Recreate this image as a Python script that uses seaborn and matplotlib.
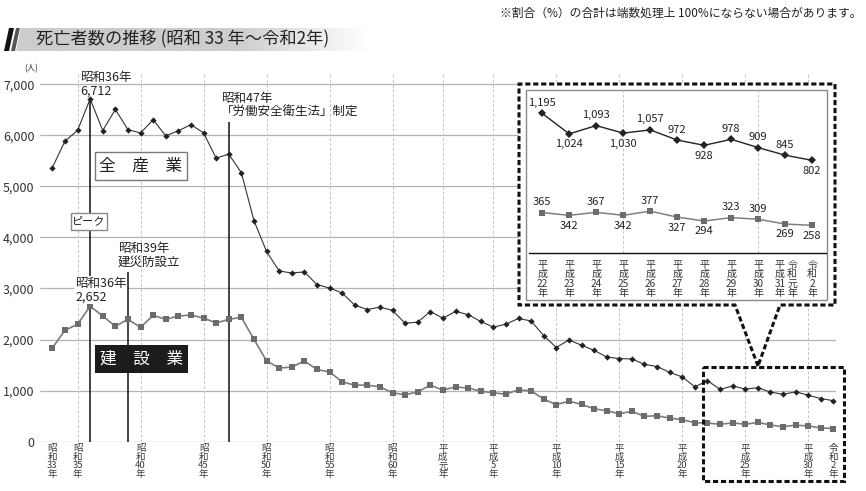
import numpy as np
import pandas as pd
import matplotlib
matplotlib.use("Agg")
import matplotlib.pyplot as plt
from matplotlib.patches import Rectangle, Polygon
import seaborn as sns

# データ(昭和33年〜令和2年)
years = np.arange(1958, 2021)
all_industry = [5368, 5885, 6095, 6712, 6093, 6506, 6110, 6046, 6303, 5990,
                6088, 6208, 6048, 5552, 5631, 5269, 4330, 3725, 3345, 3302,
                3326, 3077, 3009, 2912, 2674, 2588, 2635, 2572, 2318, 2342,
                2549, 2419, 2550, 2489, 2354, 2245, 2301, 2414, 2363, 2078,
                1844, 1992, 1889, 1790, 1658, 1628, 1620, 1514, 1472, 1357,
                1268, 1075, 1195, 1024, 1093, 1030, 1057, 972, 928, 978,
                909, 845, 802]
construction = [1836, 2182, 2299, 2652, 2461, 2260, 2396, 2240, 2474, 2396,
                2461, 2480, 2422, 2324, 2396, 2435, 2006, 1582, 1445, 1459,
                1582, 1414, 1367, 1172, 1107, 1107, 1074, 957, 918, 977,
                1107, 1010, 1074, 1049, 990, 957, 931, 1016, 996, 834,
                725, 794, 731, 644, 607, 548, 594, 497, 508, 461,
                430, 371, 365, 342, 367, 342, 377, 327, 294, 323,
                309, 269, 258]

tick_years = [1958, 1960, 1965, 1970, 1975, 1980, 1985, 1989, 1993, 1998,
              2003, 2008, 2013, 2018, 2020]
tick_labels = ["昭\n和\n33\n年", "昭\n和\n35\n年", "昭\n和\n40\n年", "昭\n和\n45\n年",
               "昭\n和\n50\n年", "昭\n和\n55\n年", "昭\n和\n60\n年", "平\n成\n元\n年",
               "平\n成\n5\n年", "平\n成\n10\n年", "平\n成\n15\n年", "平\n成\n20\n年",
               "平\n成\n25\n年", "平\n成\n30\n年", "令\n和\n2\n年"]
grid_years = [1960, 1965, 1970, 1975, 1980, 1985, 1989, 1993, 1998, 2003,
              2008, 2013, 2018]

# 拡大図(平成22年〜令和2年)
inset_n = 11
inset_labels = ["平\n成\n22\n年", "平\n成\n23\n年", "平\n成\n24\n年", "平\n成\n25\n年",
                "平\n成\n26\n年", "平\n成\n27\n年", "平\n成\n28\n年", "平\n成\n29\n年",
                "平\n成\n30\n年", "平\n成\n31\n年", "令\n和\n2\n年"]
inset_extra_label = "令\n和\n元\n年"
all_side = [1, -1, 1, -1, 1, 1, -1, 1, 1, 1, -1]
con_side = [1, -1, 1, -1, 1, -1, -1, 1, 1, -1, -1]

df = pd.DataFrame({"year": years, "全産業": all_industry, "建設業": construction})
df_in = df.tail(inset_n).reset_index(drop=True)
df_in["pos"] = np.arange(inset_n)

sns.set_style("white")
plt.rcParams["font.family"] = ["Noto Sans CJK JP", "DejaVu Sans"]

W, H = 866, 491
fig = plt.figure(figsize=(W / 100, H / 100), dpi=100)


def fr(x0, y0, x1, y1):
    return [x0 / W, 1 - y1 / H, (x1 - x0) / W, (y1 - y0) / H]


ALL_C = "#222222"
CON_C = "#6c6c6c"

# =============================================================================
# メイングラフ
# =============================================================================
ax = fig.add_axes(fr(40, 74, 836, 441.7), zorder=0)
sns.lineplot(data=df, x="year", y="建設業", ax=ax, color="#7c7c7c", lw=1.2,
             marker="s", markersize=3.8, markeredgewidth=0,
             markerfacecolor=CON_C, zorder=3)
sns.lineplot(data=df, x="year", y="全産業", ax=ax, color="#333333", lw=0.8,
             marker="D", markersize=3.2, markeredgewidth=0,
             markerfacecolor=ALL_C, zorder=3)
ax.set_xlim(1957.02, 2020.2)
ax.set_ylim(0, 7200)
for v in range(0, 8000, 1000):
    ax.axhline(v, color="#b3b3b3", lw=0.9, zorder=0)
for yr in grid_years:
    ax.axvline(yr, color="#c4c4c4", lw=0.7, ls=(0, (3, 2)), zorder=0)
for s in ax.spines.values():
    s.set_visible(False)
ax.set_yticks(range(0, 8000, 1000))
ax.set_yticklabels([f"{v:,}" for v in range(0, 8000, 1000)])
ax.set_xticks(tick_years)
ax.set_xticklabels(tick_labels)
ax.tick_params(axis="y", length=0, pad=4, labelsize=9, colors="#333333")
ax.tick_params(axis="x", length=0, pad=2, labelsize=6.8, colors="#3a3a3a")
for t in ax.get_xticklabels():
    t.set_linespacing(0.92)
ax.set_xlabel("")
ax.set_ylabel("")

# 出来事の縦線
ax.vlines(1961, 0, 6712, color="#111111", lw=1.1, zorder=2)
ax.vlines(1964, 0, 3330, color="#111111", lw=1.1, zorder=2)
ax.vlines(1972, 0, 6266, color="#111111", lw=1.1, zorder=2)

# =============================================================================
# 装飾用オーバーレイ(ピクセル座標)
# =============================================================================
ov = fig.add_axes([0, 0, 1, 1], zorder=1)
ov.patch.set_visible(False)
ov.axis("off")

# タイトル帯
grad_x = np.linspace(0, 1, 400)
grad = np.where(grad_x < 0.62, 0.80, 0.80 + (grad_x - 0.62) / 0.38 * 0.2)
banner = Polygon([(21, 28), (370, 28), (370, 51), (16, 51)], closed=True,
                 transform=ov.transData, facecolor="none", edgecolor="none")
ov.add_patch(banner)
im = ov.imshow(grad[None, :], extent=[16, 370, 51, 28], cmap="gray",
               vmin=0, vmax=1, aspect="auto", zorder=1)
im.set_clip_path(banner)
ov.add_patch(Polygon([(4, 51), (9, 51), (14, 28), (9, 28)], closed=True,
                     facecolor="#111111", edgecolor="none", zorder=2))
ov.add_patch(Polygon([(11, 51), (15, 51), (20, 28), (16, 28)], closed=True,
                     facecolor="#555555", edgecolor="none", zorder=2))
ov.text(36, 39.5, "死亡者数の推移 (昭和 33 年～令和2年)", fontsize=12.4,
        color="#222222", va="center", ha="left", zorder=3)
ov.text(861, 13, "※割合（%）の合計は端数処理上 100%にならない場合があります。",
        fontsize=8.5, color="#222222", va="center", ha="right")
ov.text(31, 69, "(人)", fontsize=6, color="#333333", va="center", ha="center")

# 注記
ann_kw = dict(fontsize=9, color="#222222", va="top", ha="left", linespacing=1.05)
ov.text(80, 71, "昭和36年\n6,712", **ann_kw)
ov.text(221, 92, "昭和47年\n「労働安全衛生法」制定", **ann_kw)
ov.text(118, 242, "昭和39年\n建災防設立", **ann_kw)
ov.text(75, 277, "昭和36年\n2,652",
        bbox=dict(facecolor="white", edgecolor="none", pad=0.5), **ann_kw)

# ラベルボックス
ov.add_patch(Rectangle((95, 152), 92, 28, facecolor="white",
                       edgecolor="#7a7a7a", lw=1.0, zorder=3))
ov.text(141, 166, "全　産　業", fontsize=12, color="#222222",
        ha="center", va="center", zorder=4)
ov.add_patch(Rectangle((95, 345), 93, 28, facecolor="#1c1c1c",
                       edgecolor="none", zorder=3))
ov.text(141.5, 359, "建　設　業", fontsize=12, color="white",
        ha="center", va="center", zorder=4)
ov.add_patch(Rectangle((70.7, 212.7), 36.6, 16.8, facecolor="white",
                       edgecolor="#8a8a8a", lw=1.0, zorder=3))
ov.text(89, 221, "ピーク", fontsize=8, color="#222222",
        ha="center", va="center", zorder=4)

# 拡大枠と吹き出し
dash = (0, (1.7, 0.9))
ov.add_patch(Polygon([(758, 366), (735, 305), (519, 305), (519, 84), (835, 84),
                      (835, 305), (780, 305)], closed=True, facecolor="white",
                     edgecolor="#111111", lw=2.2, ls=dash, zorder=5))
ov.add_patch(Rectangle((525.7, 90), 301.3, 210, facecolor="white",
                       edgecolor="#8a8a8a", lw=1.0, zorder=6))
ov.add_patch(Rectangle((702.7, 366.7), 141.3, 114.3, facecolor="none",
                       edgecolor="#111111", lw=2.2, ls=dash, zorder=5))

ov.set_xlim(0, W)
ov.set_ylim(H, 0)

# =============================================================================
# 拡大グラフ
# =============================================================================
ins = fig.add_axes(fr(528.7, 90, 825.7, 253.3), zorder=2)
ins.patch.set_alpha(0)
for xv in (3, 8):
    ins.axvline(xv, color="#c4c4c4", lw=0.7, ls=(0, (3, 2)), zorder=0)
sns.lineplot(data=df_in, x="pos", y="建設業", ax=ins, color="#808080", lw=1.1,
             marker="s", markersize=5, markeredgewidth=0,
             markerfacecolor=CON_C, zorder=3)
sns.lineplot(data=df_in, x="pos", y="全産業", ax=ins, color="#222222", lw=1.0,
             marker="D", markersize=4, markeredgewidth=0,
             markerfacecolor=ALL_C, zorder=3)
ins.set_xlim(-0.5, inset_n - 0.5)
ins.set_ylim(24, 1391)
for k, s in ins.spines.items():
    s.set_visible(k == "bottom")
ins.spines["bottom"].set_color("#111111")
ins.spines["bottom"].set_linewidth(1.0)
ins.set_xticks(np.arange(-0.5, inset_n, 1))
ins.set_xticklabels([])
ins.set_yticks([])
ins.tick_params(axis="x", direction="in", length=4, width=0.9, color="#111111")
ins.set_xlabel("")
ins.set_ylabel("")

for i in range(inset_n):
    ins.annotate(f"{df_in['全産業'][i]:,}", (i, df_in["全産業"][i]),
                 xytext=(0, 7.5 * all_side[i]), textcoords="offset points",
                 ha="center", va="center", fontsize=8, color="#222222")
    ins.annotate(f"{df_in['建設業'][i]:,}", (i, df_in["建設業"][i]),
                 xytext=(0, 7.5 * con_side[i]), textcoords="offset points",
                 ha="center", va="center", fontsize=8, color="#222222")

lab_kw = dict(transform=ins.get_xaxis_transform(), ha="center", va="top",
              fontsize=7.2, linespacing=0.92, color="#333333")
for i, lab in enumerate(inset_labels):
    if i == 9:
        ins.text(i - 0.2, -0.04, lab, **lab_kw)
        ins.text(i + 0.26, -0.04, inset_extra_label, **lab_kw)
    else:
        ins.text(i, -0.04, lab, **lab_kw)

fig.savefig("out.png", dpi=100)
